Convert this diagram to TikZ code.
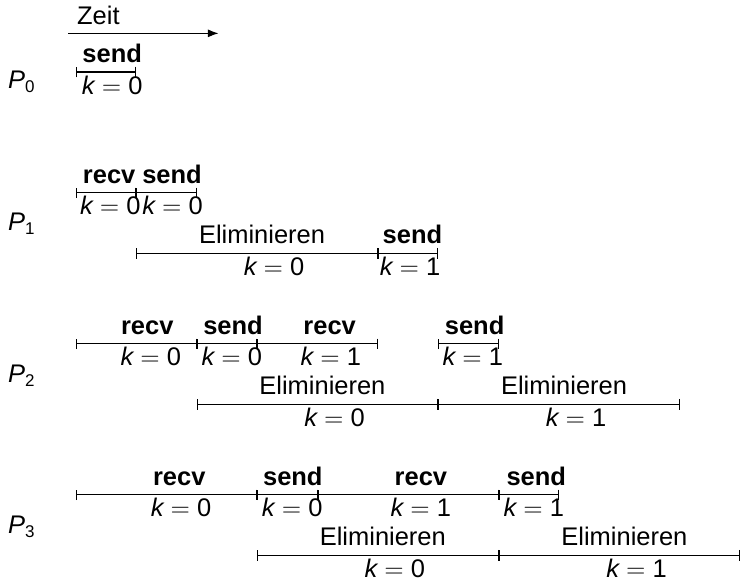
\documentclass[tikz,border=0pt,12pt]{standalone}
\usepackage{fontspec}
\setmainfont{Liberation Sans}
\usetikzlibrary{arrows.meta}

\newcommand{\kv}[1]{$\mbox{\itshape k}=\mbox{#1}$}

\begin{document}
\begin{tikzpicture}[
				phase/.style={{Bar[width=5pt]}-{Bar[width=5pt]}, line width=0.5pt},
				op/.style={above, font=\bfseries},
				calc/.style={above},
				kval/.style={below, inner sep=1.5pt},
				proc/.style={anchor=base west, inner sep=0pt}
				]
				\useasboundingbox (-1.258,1.192) rectangle (11.01,-8.377);
				
				% Zeitachse
				\draw[-{Latex[length=5pt]}, line width=0.5pt] (-0.13,0.64) -- node[pos=0, above right] (zeit) {Zeit} (2.36,0.64);
				
				% Prozesse
				\node[proc] (p0) at (-1.13,-0.27) {\textit{P}\textsubscript{0}};
				\node[proc] (p1) at (-1.13,-2.63) {\textit{P}\textsubscript{1}};
				\node[proc] (p2) at (-1.13,-5.14) {\textit{P}\textsubscript{2}};
				\node[proc] (p3) at (-1.13,-7.64) {\textit{P}\textsubscript{3}};
				
				% P0
				\draw[phase] (0,0) -- node[op, pos=.6] (s00) {send} node[kval, pos=.6] (ks00) {\kv{0}} (1,0);
				
				% P1
				\draw[phase] (0,-2) -- node[op, pos=.55] (r10) {recv} node[kval, pos=.57] (kr10) {\kv{0}} (1,-2);
				\draw[phase] (1,-2) -- node[op, pos=.59] (s10) {send} node[kval, pos=.6] (ks10) {\kv{0}} (2,-2);
				\draw[phase] (1,-3) -- node[calc, pos=.52] (e10) {Eliminieren} node[kval, pos=.57] (ke10) {\kv{0}} (5,-3);
				\draw[phase] (5,-3) -- node[op, pos=.57] (s11) {send} node[kval, pos=.53] (ks11) {\kv{1}} (6,-3);
				
				% P2
				\draw[phase] (0,-4.5) -- node[op, pos=.59] (r20) {recv} node[kval, pos=.62] (kr20) {\kv{0}} (2,-4.5);
				\draw[phase] (2,-4.5) -- node[op, pos=.6] (s20) {send} node[kval, pos=.58] (ks20) {\kv{0}} (3,-4.5);
				\draw[phase] (3,-4.5) -- node[op, pos=.6] (r21) {recv} node[kval, pos=.61] (kr21) {\kv{1}} (5,-4.5);
				\draw[phase] (6,-4.5) -- node[op, pos=.6] (s21) {send} node[kval, pos=.57] (ks21) {\kv{1}} (7,-4.5);
				\draw[phase] (2,-5.5) -- node[calc, pos=.52] (e20) {Eliminieren} node[kval, pos=.57] (ke20) {\kv{0}} (6,-5.5);
				\draw[phase] (6,-5.5) -- node[calc, pos=.52] (e21) {Eliminieren} node[kval, pos=.57] (ke21) {\kv{1}} (10,-5.5);
				
				% P3
				\draw[phase] (0,-7) -- node[op, pos=.57] (r30) {recv} node[kval, pos=.58] (kr30) {\kv{0}} (3,-7);
				\draw[phase] (3,-7) -- node[op, pos=.59] (s30) {send} node[kval, pos=.58] (ks30) {\kv{0}} (4,-7);
				\draw[phase] (4,-7) -- node[op, pos=.57] (r31) {recv} node[kval, pos=.57] (kr31) {\kv{1}} (7,-7);
				\draw[phase] (7,-7) -- node[op, pos=.62] (s31) {send} node[kval, pos=.58] (ks31) {\kv{1}} (8,-7);
				\draw[phase] (3,-8) -- node[calc, pos=.52] (e30) {Eliminieren} node[kval, pos=.57] (ke30) {\kv{0}} (7,-8);
				\draw[phase] (7,-8) -- node[calc, pos=.52] (e31) {Eliminieren} node[kval, pos=.57] (ke31) {\kv{1}} (11,-8);
			\end{tikzpicture}
\end{document}
